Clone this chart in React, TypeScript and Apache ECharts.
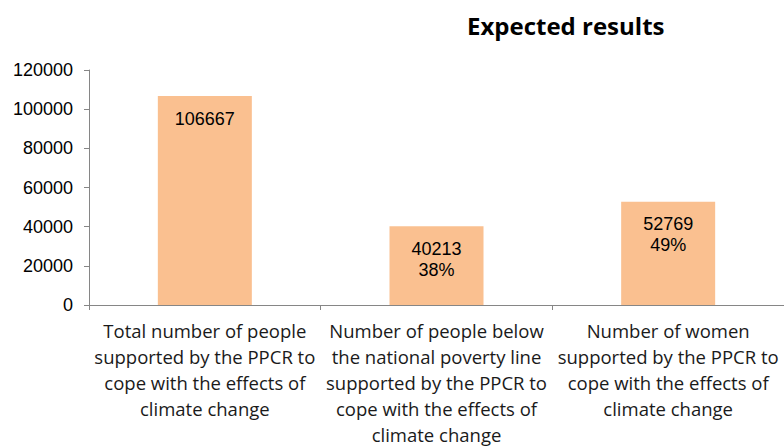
import React, { useEffect, useRef } from "react";
import * as echarts from "echarts";

const categories = [
  "Total number of people\nsupported by the PPCR to\ncope with the effects of\nclimate change",
  "Number of people below\nthe national poverty line\nsupported by the PPCR to\ncope with the effects of\nclimate change",
  "Number of women\nsupported by the PPCR to\ncope with the effects of\nclimate change",
];
const values = [106667, 40213, 52769];
const shares = ["", "38%", "49%"];
const yTicks = { min: 0, max: 120000, interval: 20000 };
const title = "Expected results";

export default function App() {
  const ref = useRef<HTMLDivElement>(null);
  useEffect(() => {
    if (!ref.current) return;
    const chart = echarts.init(ref.current, null, { renderer: "svg" });
    chart.setOption({
      animation: false,
      backgroundColor: "#ffffff",
      title: {
        text: title,
        left: 462,
        top: 8,
        textStyle: {
          fontFamily: "Open Sans",
          fontWeight: "bold",
          fontSize: 24,
          color: "#000000",
        },
      },
      grid: { left: 89, top: 70, width: 704, height: 235, containLabel: false },
      xAxis: {
        type: "category",
        data: categories,
        axisLine: { lineStyle: { color: "#868686", width: 1 } },
        axisTick: { show: true, length: 5, alignWithLabel: false, lineStyle: { color: "#868686" } },
        axisLabel: {
          interval: 0,
          margin: 12,
          fontFamily: "Open Sans",
          fontSize: 18.5,
          lineHeight: 26,
          color: "#1a1a1a",
          align: "center",
        },
      },
      yAxis: {
        type: "value",
        min: yTicks.min,
        max: yTicks.max,
        interval: yTicks.interval,
        splitLine: { show: false },
        axisLine: { show: true, lineStyle: { color: "#868686", width: 1 } },
        axisTick: { show: true, length: 5, lineStyle: { color: "#868686" } },
        axisLabel: {
          margin: 16,
          fontFamily: "Liberation Sans",
          fontSize: 18,
          color: "#000000",
          formatter: (v: number) => String(v),
        },
      },
      series: [
        {
          type: "bar",
          data: values,
          barWidth: 94,
          itemStyle: { color: "#FAC090" },
          label: {
            show: true,
            position: "insideTop",
            distance: 12,
            fontFamily: "Liberation Sans",
            fontSize: 18,
            lineHeight: 21,
            color: "#000000",
            formatter: (p: any) => {
              const s = shares[p.dataIndex];
              return s ? `${p.value}\n${s}` : `${p.value}`;
            },
          },
        },
      ],
    });
    return () => chart.dispose();
  }, []);
  return (
    <div
      ref={ref}
      style={{ position: "fixed", left: 0, top: 0, width: 784, height: 447 }}
    />
  );
}
